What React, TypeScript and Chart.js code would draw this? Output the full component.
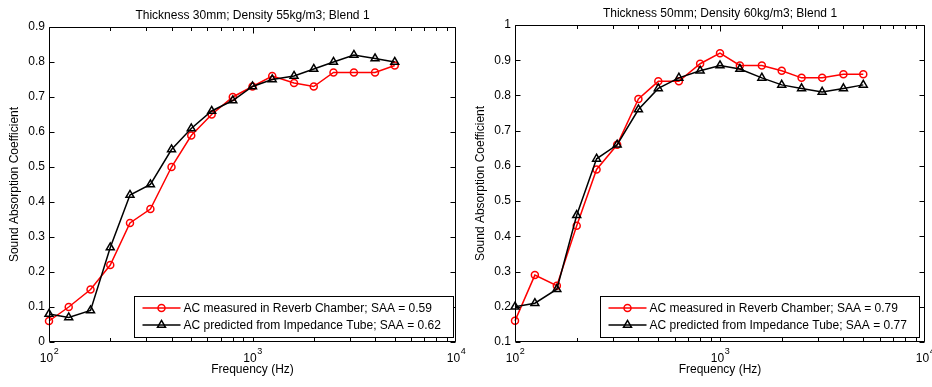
import React, { useEffect, useRef } from 'react';
import { Chart, registerables } from 'chart.js';

Chart.register(...registerables);

const frequencies = [100, 125, 160, 200, 250, 315, 400, 500, 630, 800, 1000, 1250, 1600, 2000, 2500, 3150, 4000, 5000];

const leftReverb = [0.06, 0.10, 0.15, 0.22, 0.34, 0.38, 0.50, 0.59, 0.65, 0.70, 0.73, 0.76, 0.74, 0.73, 0.77, 0.77, 0.77, 0.79];
const leftTube = [0.08, 0.07, 0.09, 0.27, 0.42, 0.45, 0.55, 0.61, 0.66, 0.69, 0.73, 0.75, 0.76, 0.78, 0.80, 0.82, 0.81, 0.80];
const rightReverb = [0.16, 0.29, 0.26, 0.43, 0.59, 0.66, 0.79, 0.84, 0.84, 0.89, 0.92, 0.885, 0.885, 0.87, 0.85, 0.85, 0.86, 0.86];
const rightTube = [0.20, 0.21, 0.25, 0.46, 0.62, 0.66, 0.76, 0.82, 0.85, 0.87, 0.885, 0.875, 0.85, 0.83, 0.82, 0.81, 0.82, 0.83];

const leftTitle = 'Thickness 30mm; Density 55kg/m3; Blend 1';
const rightTitle = 'Thickness 50mm; Density 60kg/m3; Blend 1';
const leftLabels = ['AC measured in Reverb Chamber; SAA = 0.59', 'AC predicted from Impedance Tube; SAA = 0.62'];
const rightLabels = ['AC measured in Reverb Chamber; SAA = 0.79', 'AC predicted from Impedance Tube; SAA = 0.77'];
const xTickValues = [100, 1000, 10000];
const xTickExponents = ['2', '3', '4'];
const xAxisTitle = 'Frequency (Hz)';
const yAxisTitle = 'Sound Absorption Coefficient';
const leftYRange = [0, 0.9];
const rightYRange = [0.1, 1];

const FONT = "'Liberation Sans', Arial, Helvetica, sans-serif";
const RED = '#ff0000';
const BLACK = '#000000';

type PanelProps = {
  title: string;
  labels: string[];
  reverb: number[];
  tube: number[];
  yRange: number[];
  padTop: number;
  padRight: number;
  legendLeft: number;
};

function drawMarker(ctx: CanvasRenderingContext2D, kind: string, x: number, y: number, r: number) {
  ctx.beginPath();
  if (kind === 'circle') {
    ctx.arc(x, y, r, 0, Math.PI * 2);
  } else {
    let rad = 0;
    ctx.moveTo(x + Math.sin(rad) * r, y - Math.cos(rad) * r);
    rad += (2 * Math.PI) / 3;
    ctx.lineTo(x + Math.sin(rad) * r, y - Math.cos(rad) * r);
    rad += (2 * Math.PI) / 3;
    ctx.lineTo(x + Math.sin(rad) * r, y - Math.cos(rad) * r);
    ctx.closePath();
  }
  ctx.stroke();
}

function Panel(props: PanelProps) {
  const ref = useRef<HTMLCanvasElement | null>(null);
  useEffect(() => {
    if (!ref.current) return;
    const p = props;
    const decorations = {
      id: 'matlabDecor',
      afterDraw(chart: any) {
        const ctx: CanvasRenderingContext2D = chart.ctx;
        const ca = chart.chartArea;
        const xs = chart.scales.x;
        const ys = chart.scales.y;
        const L = Math.round(ca.left) + 0.5;
        const R = Math.round(ca.right) - 0.5;
        const T = Math.round(ca.top) + 0.5;
        const B = Math.round(ca.bottom) - 0.5;
        ctx.save();
        ctx.strokeStyle = BLACK;
        ctx.lineWidth = 1;
        ctx.beginPath();
        ctx.rect(L, T, R - L, B - T);
        ctx.stroke();
        // y ticks (inward, both sides)
        ctx.beginPath();
        ys.ticks.forEach((t: any) => {
          const y = Math.round(ys.getPixelForValue(t.value)) + 0.5;
          ctx.moveTo(L, y); ctx.lineTo(L + 5, y);
          ctx.moveTo(R, y); ctx.lineTo(R - 5, y);
        });
        // x ticks (log, major + minor)
        [100, 1000].forEach((dec) => {
          for (let m = 1; m <= 9; m++) {
            const v = dec * m;
            const x = Math.round(xs.getPixelForValue(v)) + 0.5;
            const len = m === 1 ? 6 : 3.5;
            ctx.moveTo(x, B); ctx.lineTo(x, B - len);
            ctx.moveTo(x, T); ctx.lineTo(x, T + len);
          }
        });
        {
          const x = Math.round(xs.getPixelForValue(10000)) - 0.5;
          ctx.moveTo(x, B); ctx.lineTo(x, B - 6);
          ctx.moveTo(x, T); ctx.lineTo(x, T + 6);
        }
        ctx.stroke();

        ctx.fillStyle = BLACK;
        // x tick labels with superscript exponents
        xTickValues.forEach((v, i) => {
          const x = xs.getPixelForValue(v);
          ctx.font = `12px ${FONT}`;
          const w1 = ctx.measureText('10').width;
          ctx.font = `9px ${FONT}`;
          const w2 = ctx.measureText(xTickExponents[i]).width;
          const start = x - (w1 + w2) / 2;
          ctx.textAlign = 'left';
          ctx.textBaseline = 'alphabetic';
          ctx.font = `12px ${FONT}`;
          ctx.fillText('10', start, ca.bottom + 20);
          ctx.font = `9px ${FONT}`;
          ctx.fillText(xTickExponents[i], start + w1 + 0.5, ca.bottom + 12);
        });
        // x axis title
        ctx.font = `12px ${FONT}`;
        ctx.textAlign = 'center';
        ctx.textBaseline = 'alphabetic';
        const cx = (ca.left + ca.right) / 2;
        ctx.fillText(xAxisTitle, cx, ca.bottom + 31);
        // chart title
        ctx.fillText(p.title, cx, ca.top - 8);
        // y axis title
        ctx.save();
        ctx.translate(15, (ca.top + ca.bottom) / 2);
        ctx.rotate(-Math.PI / 2);
        ctx.textAlign = 'center';
        ctx.textBaseline = 'middle';
        ctx.fillText(yAxisTitle, 0, 0);
        ctx.restore();

        // legend
        const bx = p.legendLeft + 0.5;
        const by = 296.5;
        const bw = 319;
        const bh = 41;
        ctx.fillStyle = '#ffffff';
        ctx.fillRect(bx, by, bw, bh);
        ctx.strokeStyle = BLACK;
        ctx.lineWidth = 1;
        ctx.strokeRect(bx, by, bw, bh);
        const rows = [
          { label: p.labels[0], color: RED, kind: 'circle', r: 3.5, y: 308 },
          { label: p.labels[1], color: BLACK, kind: 'triangle', r: 4.6, y: 325 },
        ];
        rows.forEach((row) => {
          ctx.strokeStyle = row.color;
          ctx.lineWidth = 1.5;
          ctx.beginPath();
          ctx.moveTo(bx + 8, row.y);
          ctx.lineTo(bx + 46, row.y);
          ctx.stroke();
          drawMarker(ctx, row.kind, bx + 27, row.y, row.r);
          ctx.fillStyle = BLACK;
          ctx.font = `12px ${FONT}`;
          ctx.textAlign = 'left';
          ctx.textBaseline = 'middle';
          ctx.fillText(row.label, bx + 49, row.y + 1);
        });
        ctx.restore();
      },
    };

    const chart = new Chart(ref.current, {
      type: 'line',
      data: {
        labels: frequencies,
        datasets: [
          {
            label: p.labels[0],
            data: frequencies.map((f, i) => ({ x: f, y: p.reverb[i] })),
            borderColor: RED,
            borderWidth: 1.5,
            pointStyle: 'circle',
            pointRadius: 3.5,
            pointBorderWidth: 1.5,
            pointBorderColor: RED,
            pointBackgroundColor: 'rgba(0,0,0,0)',
            tension: 0,
            clip: false,
            order: 1,
          },
          {
            label: p.labels[1],
            data: frequencies.map((f, i) => ({ x: f, y: p.tube[i] })),
            borderColor: BLACK,
            borderWidth: 1.5,
            pointStyle: 'triangle',
            pointRadius: 4.6,
            pointBorderWidth: 1.5,
            pointBorderColor: BLACK,
            pointBackgroundColor: 'rgba(0,0,0,0)',
            tension: 0,
            clip: false,
            order: 0,
          },
        ],
      },
      options: {
        animation: false,
        responsive: false,
        devicePixelRatio: 1,
        events: [],
        layout: { padding: { top: p.padTop, right: p.padRight, left: 0, bottom: 0 } },
        plugins: {
          legend: { display: false },
          tooltip: { enabled: false },
          title: { display: false },
        },
        scales: {
          x: {
            type: 'logarithmic',
            min: 100,
            max: 10000,
            grid: { display: false, drawTicks: false },
            border: { display: false },
            ticks: { display: false },
            afterBuildTicks: (s: any) => {
              s.ticks = xTickValues.map((v) => ({ value: v }));
            },
            afterFit: (s: any) => {
              s.height = 45;
            },
          },
          y: {
            type: 'linear',
            min: p.yRange[0],
            max: p.yRange[1],
            grid: { display: false, drawTicks: false },
            border: { display: false },
            ticks: {
              stepSize: 0.1,
              padding: 4,
              color: BLACK,
              font: { family: FONT, size: 12 },
              callback: (v: any) => String(Math.round(Number(v) * 10) / 10),
            },
            afterFit: (s: any) => {
              s.width = 49;
            },
          },
        },
      } as any,
      plugins: [decorations],
    });
    return () => chart.destroy();
  }, []);
  return <canvas ref={ref} width={466} height={387} style={{ display: 'block', width: 466, height: 387 }} />;
}

export default function App() {
  return (
    <div style={{ position: 'absolute', left: 0, top: 0, width: 932, height: 387, display: 'flex', background: '#fff' }}>
      <Panel title={leftTitle} labels={leftLabels} reverb={leftReverb} tube={leftTube} yRange={leftYRange} padTop={27} padRight={10} legendLeft={134} />
      <Panel title={rightTitle} labels={rightLabels} reverb={rightReverb} tube={rightTube} yRange={rightYRange} padTop={25} padRight={7} legendLeft={134} />
    </div>
  );
}
